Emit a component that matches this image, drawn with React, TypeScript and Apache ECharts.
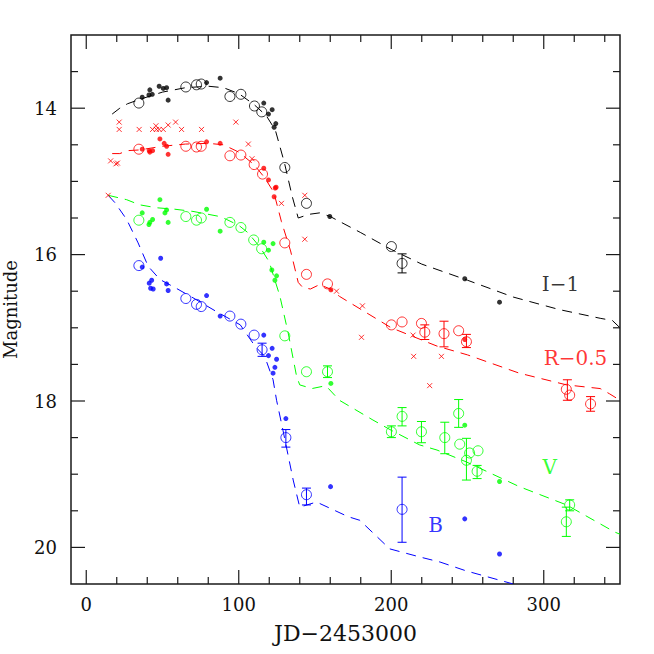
import React, { useEffect, useRef } from "react";
import * as echarts from "echarts";

// ---------- data (JD-2453000, magnitude) ----------
const iOpen = [[34.5,13.93],[65.3,13.71],[72.3,13.68],[75.4,13.67],[94.2,13.84],[101.4,13.81],[110.3,13.97],[115.1,14.05],[130.2,14.81],[144.4,15.30],[200.1,15.89],[207.1,16.12]];
const iFilled = [[36.7,13.85],[41.1,13.82],[41.7,13.75],[43.3,13.81],[47.8,13.70],[50.5,13.73],[52.7,13.72],[53.7,13.89],[78.9,13.65],[87.8,13.59],[116.4,13.93],[119.5,14.08],[121.9,14.02],[123.2,14.26],[124.3,14.21],[159.7,15.48],[248.2,16.33],[271,16.65]];
const iErr = [[207.1,15.99,16.25]];
const iTemplate = [[17,14.08],[22,14.0],[27,13.94],[35,13.88],[50,13.78],[65,13.72],[80,13.70],[90,13.72],[100,13.80],[110,13.95],[118,14.10],[124,14.30],[130,14.75],[135,15.2],[139,15.5],[146,15.45],[153,15.43],[160,15.48],[180,15.70],[200,15.93],[220,16.13],[250,16.35],[280,16.58],[310,16.75],[337,16.87],[345,16.9],[350,17.0]];

const rOpen = [[34.5,14.56],[65.3,14.52],[72.3,14.53],[75.4,14.52],[94.2,14.65],[101.4,14.64],[110.1,14.77],[115.6,14.90],[130.2,15.84],[144.4,16.27],[158.2,16.40],[200.1,16.96],[207.1,16.92],[219.8,16.94],[222,17.06],[234.6,17.08],[244.2,17.04],[249.3,17.19],[314.8,17.84],[317,17.92],[330.7,18.04]];
const rFilled = [[36.7,14.56],[41.3,14.58],[41.7,14.60],[43.5,14.58],[48.3,14.42],[51.1,14.48],[52.7,14.52],[53.7,14.63],[78.9,14.46],[87.8,14.48],[116.4,14.82],[119.5,14.98],[123.2,15.21],[123.9,15.09],[124.5,15.08],[160.4,16.48],[248.2,17.16]];
const rCross = [[14.4,15.19],[16,14.72],[19.5,14.76],[20.5,14.75],[21.6,14.19],[21.6,14.29],[34.7,14.29],[43.5,14.29],[45.7,14.24],[46,14.29],[47.8,14.29],[50.5,14.29],[53.7,14.23],[58.6,14.19],[62.5,14.29],[75.6,14.29],[98.1,14.19],[106.3,14.49],[108.7,14.69],[128,15.30],[143.3,15.19],[143.3,15.79],[164.1,16.50],[180.5,17.13],[181.1,16.70],[214.3,17.10],[214.7,17.39],[225.2,17.79],[232.9,17.39]];
const rErr = [[222,16.96,17.16],[234.6,16.91,17.26],[249.3,17.09,17.27],[315.5,17.71,17.99],[330.7,17.94,18.14]];
const rTemplate = [[17,14.62],[22,14.62],[27,14.58],[35,14.57],[50,14.52],[65,14.49],[80,14.48],[90,14.50],[100,14.60],[110,14.77],[117,14.95],[123,15.15],[128,15.55],[134,15.95],[139,16.38],[142,16.45],[147,16.47],[153,16.41],[160,16.47],[166,16.57],[200,17.0],[230,17.25],[250,17.37],[284,17.62],[315,17.78],[337,17.83],[343,17.9],[350,17.99]];

const vOpen = [[34.5,15.53],[65.3,15.48],[72.3,15.53],[75.4,15.50],[94.2,15.56],[101.4,15.63],[109.8,15.80],[115,15.92],[130.2,17.11],[144.4,17.60],[158.2,17.60],[200.1,18.42],[207.1,18.21],[219.8,18.42],[235.1,18.50],[244.2,18.17],[244.9,18.59],[249.3,18.81],[251.4,18.71],[256.9,18.68],[256.3,18.96],[314.8,19.65],[317,19.42]];
const vFilled = [[36.7,15.43],[41.1,15.59],[41.7,15.56],[43.5,15.52],[48.3,15.25],[51.6,15.43],[52.7,15.39],[53.7,15.56],[78.9,15.38],[87.8,15.68],[116.4,15.83],[119.5,15.94],[121.7,16.21],[122.5,15.85],[123.7,16.35],[124.8,16.29],[160.4,17.76],[248.2,18.33],[271,19.10]];
const vErr = [[158.2,17.52,17.68],[200.1,18.34,18.50],[207.1,18.09,18.34],[219.8,18.28,18.57],[235.1,18.29,18.72],[244.2,17.98,18.36],[249.3,18.51,19.08],[256.3,18.88,19.06],[317,19.35,19.50],[314.8,19.45,19.85]];
const vTemplate = [[14.4,15.19],[26.5,15.25],[35,15.32],[46,15.36],[58,15.38],[70,15.41],[87.6,15.48],[92,15.52],[100,15.6],[106,15.70],[114,15.90],[120,16.1],[127,16.57],[132.4,17.07],[138,17.67],[140,17.78],[148,17.83],[155,17.80],[157.5,17.80],[166,17.99],[188,18.26],[200,18.40],[218.6,18.60],[230,18.67],[249,18.83],[284,19.17],[315,19.42],[346.5,19.79],[350,19.82]];

const bOpen = [[34.5,16.15],[65.3,16.60],[72.3,16.68],[75.4,16.71],[94.2,16.84],[101.4,16.95],[110.1,17.10],[115.3,17.30],[130.9,18.50],[144.4,19.28],[207.1,19.48]];
const bFilled = [[36.7,16.17],[41.3,16.39],[42.2,16.46],[42.9,16.35],[43.9,16.47],[48.8,16.05],[52.7,16.40],[53.7,16.49],[78.9,16.56],[87.8,16.84],[116.4,17.10],[119.5,17.38],[121.9,17.28],[122.5,17.62],[123.7,17.54],[124.8,17.43],[130.9,18.24],[160.2,19.17],[248.2,19.61],[271,20.09]];
const bErr = [[115.3,17.21,17.39],[130.9,18.39,18.63],[144.4,19.19,19.42],[207.1,19.04,19.93]];
const bTemplate = [[14.4,15.19],[18.8,15.29],[26.5,15.52],[34,15.84],[40.6,16.16],[48.3,16.34],[59,16.46],[70,16.59],[85.5,16.78],[101,16.96],[111,17.26],[117,17.39],[122.5,17.71],[124.8,17.99],[129,18.40],[135.7,19.08],[140,19.45],[151,19.38],[171.7,19.58],[179.4,19.63],[199,20.02],[218.6,20.13],[232,20.20],[249,20.32],[280,20.50]];

const bandNames = ["I\u22121", "R\u22120.5", "V", "B"];
const bandLabelAt = [[311, 16.40], [320.8, 17.41], [303.9, 18.90], [229.1, 19.70]];

const X_MIN = -10, X_MAX = 350, Y_MIN = 13, Y_MAX = 20.5;
const xMajor = [0, 100, 200, 300];
const xMinor = [20, 40, 60, 80, 120, 140, 160, 180, 220, 240, 260, 280, 320, 340];
const yMajor = [14, 16, 18, 20];
const yMinor = [13.5, 14.5, 15, 15.5, 16.5, 17, 17.5, 18.5, 19, 19.5];

// ---------- styling ----------
const FONT = "DejaVu Serif";
const AXIS_COLOR = "#1a1a1a";
const COLORS = { I: "#000000", R: "#ff0000", V: "#00ff00", B: "#0000ff" };
const MAJOR_LEN = 14, MINOR_LEN = 7;

function errSeries(data: number[][], color: string) {
  return {
    type: "custom",
    data,
    z: 4,
    encode: { x: 0, y: [1, 2] },
    renderItem: (_params: any, api: any) => {
      const x = api.value(0);
      const p1 = api.coord([x, api.value(1)]);
      const p2 = api.coord([x, api.value(2)]);
      const w = 4.5;
      const st = { stroke: color, lineWidth: 1 };
      return {
        type: "group",
        children: [
          { type: "line", shape: { x1: p1[0], y1: p1[1], x2: p2[0], y2: p2[1] }, style: st },
          { type: "line", shape: { x1: p1[0] - w, y1: p1[1], x2: p1[0] + w, y2: p1[1] }, style: st },
          { type: "line", shape: { x1: p2[0] - w, y1: p2[1], x2: p2[0] + w, y2: p2[1] }, style: st },
        ],
      };
    },
  };
}

function lineSeries(data: number[][], color: string) {
  return {
    type: "line",
    data,
    symbol: "none",
    z: 2,
    lineStyle: { color, width: 1, type: [10, 7] },
    silent: true,
  };
}

function openSeries(data: number[][], color: string) {
  return {
    type: "scatter",
    data,
    symbol: "circle",
    symbolSize: 10,
    z: 5,
    itemStyle: { color: "rgba(0,0,0,0)", borderColor: color, borderWidth: 1 },
  };
}

function filledSeries(data: number[][], color: string) {
  return {
    type: "scatter",
    data,
    symbol: "circle",
    symbolSize: 5,
    z: 6,
    itemStyle: { color },
  };
}

// inward ticks on all four sides, placed through the axis scales
const xTickData = [...xMajor.map((v) => [v, Y_MIN, MAJOR_LEN]), ...xMinor.map((v) => [v, Y_MIN, MINOR_LEN])];
const yTickData = [...yMajor.map((v) => [X_MIN, v, MAJOR_LEN]), ...yMinor.map((v) => [X_MIN, v, MINOR_LEN])];
const tickStyle = { stroke: AXIS_COLOR, lineWidth: 1.2 };

const xTickSeries = {
  type: "custom",
  silent: true,
  clip: false,
  z: 10,
  data: xTickData,
  encode: { x: 0, y: 1 },
  renderItem: (params: any, api: any) => {
    const cs = params.coordSys;
    const x = api.coord([api.value(0), api.value(1)])[0];
    const len = api.value(2);
    const top = cs.y, bottom = cs.y + cs.height;
    return {
      type: "group",
      children: [
        { type: "line", shape: { x1: x, y1: bottom, x2: x, y2: bottom - len }, style: tickStyle },
        { type: "line", shape: { x1: x, y1: top, x2: x, y2: top + len }, style: tickStyle },
      ],
    };
  },
};

const yTickSeries = {
  type: "custom",
  silent: true,
  clip: false,
  z: 10,
  data: yTickData,
  encode: { x: 0, y: 1 },
  renderItem: (params: any, api: any) => {
    const cs = params.coordSys;
    const y = api.coord([api.value(0), api.value(1)])[1];
    const len = api.value(2);
    const left = cs.x, right = cs.x + cs.width;
    return {
      type: "group",
      children: [
        { type: "line", shape: { x1: left, y1: y, x2: left + len, y2: y }, style: tickStyle },
        { type: "line", shape: { x1: right, y1: y, x2: right - len, y2: y }, style: tickStyle },
      ],
    };
  },
};

export default function App() {
  const ref = useRef<HTMLDivElement>(null);
  useEffect(() => {
    if (!ref.current) return;
    const chart = echarts.init(ref.current, null, { renderer: "svg" });
    const labelColors = [COLORS.I, COLORS.R, COLORS.V, COLORS.B];

    chart.setOption({
      animation: false,
      backgroundColor: "#ffffff",
      grid: {
        left: 71, right: 34, top: 35, bottom: 70, containLabel: false,
        outerBoundsMode: "none",
        show: true, borderColor: AXIS_COLOR, borderWidth: 1.5, backgroundColor: "rgba(0,0,0,0)",
      },
      xAxis: {
        type: "value",
        min: X_MIN,
        max: X_MAX,
        splitLine: { show: false },
        name: "JD\u22122453000",
        nameLocation: "middle",
        nameGap: 38,
        nameTextStyle: { fontFamily: FONT, fontSize: 22, color: "#111" },
        axisLine: { show: false, onZero: false },
        axisTick: { show: false },
        axisLabel: { show: true, customValues: xMajor, fontFamily: FONT, fontSize: 18, color: "#111", margin: 11 },
      },
      yAxis: {
        type: "value",
        min: Y_MIN,
        max: Y_MAX,
        inverse: true,
        splitLine: { show: false },
        name: "Magnitude",
        nameLocation: "middle",
        nameGap: 52,
        nameRotate: 90,
        nameTextStyle: { fontFamily: FONT, fontSize: 18, color: "#111" },
        axisLine: { show: false, onZero: false },
        axisTick: { show: false },
        axisLabel: { show: true, customValues: yMajor, fontFamily: FONT, fontSize: 18, color: "#111", margin: 14 },
      },
      series: [
        lineSeries(iTemplate, COLORS.I),
        lineSeries(rTemplate, COLORS.R),
        lineSeries(vTemplate, COLORS.V),
        lineSeries(bTemplate, COLORS.B),
        errSeries(iErr, COLORS.I),
        errSeries(rErr, COLORS.R),
        errSeries(vErr, COLORS.V),
        errSeries(bErr, COLORS.B),
        openSeries(iOpen, COLORS.I),
        openSeries(rOpen, COLORS.R),
        openSeries(vOpen, COLORS.V),
        openSeries(bOpen, COLORS.B),
        filledSeries(iFilled, COLORS.I),
        filledSeries(rFilled, COLORS.R),
        filledSeries(vFilled, COLORS.V),
        filledSeries(bFilled, COLORS.B),
        {
          type: "scatter",
          data: rCross,
          symbol: "path://M0,0L10,10M10,0L0,10",
          symbolSize: 5,
          z: 6,
          itemStyle: { color: "rgba(0,0,0,0)", borderColor: COLORS.R, borderWidth: 1 },
        },
        xTickSeries,
        yTickSeries,
        {
          type: "scatter",
          silent: true,
          symbolSize: 1,
          itemStyle: { color: "rgba(0,0,0,0)" },
          z: 7,
          data: bandNames.map((n, i) => ({
            name: n,
            value: bandLabelAt[i],
            label: { color: labelColors[i] },
          })),
          label: {
            show: true,
            position: "inside",
            formatter: "{b}",
            fontFamily: FONT,
            fontSize: 20,
          },
        },
      ],
    });
    return () => chart.dispose();
  }, []);
  return (
    <div
      ref={ref}
      style={{ position: "fixed", left: 0, top: 0, width: 654, height: 654, background: "#fff" }}
    />
  );
}
